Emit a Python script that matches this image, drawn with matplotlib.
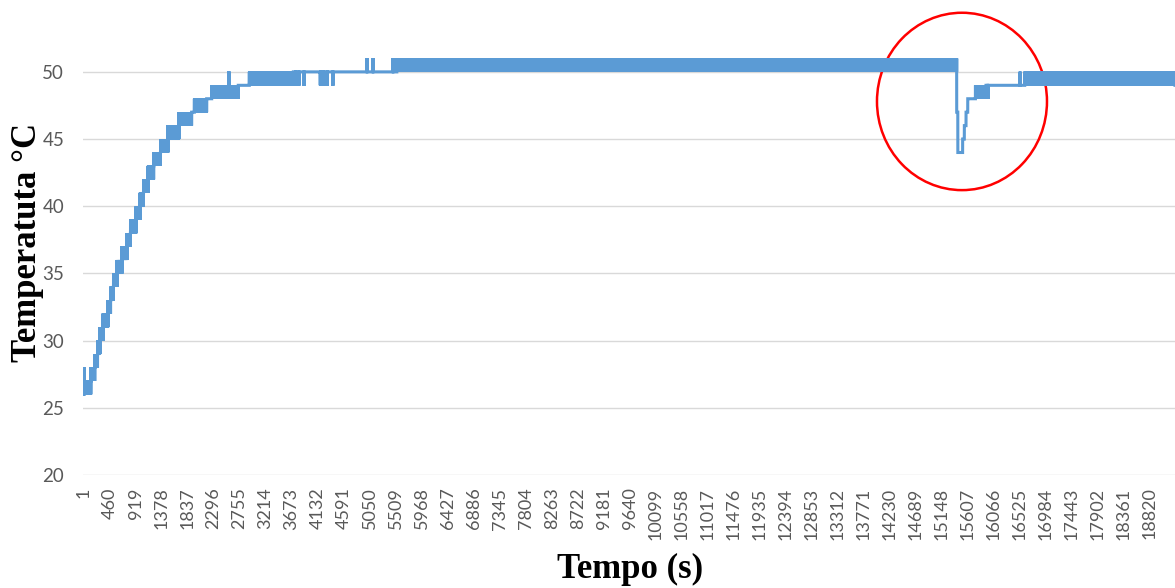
import numpy as np
import matplotlib
matplotlib.use("Agg")
import matplotlib.pyplot as plt
from matplotlib.patches import Ellipse

# Temperature log: one reading per second. The sensor reports whole degrees and
# often flickers between two neighbouring values, so the log is described as
# consecutive blocks starting at seg_start, with the low/high reading of each.
seg_start = [1, 12, 130, 200, 250, 290, 345, 430, 480, 530,
             590, 680, 770, 830, 930, 1000, 1060, 1140, 1240, 1360,
             1490, 1686, 1910, 1957, 2175, 2263, 2560, 2575, 2733, 2927,
             3704, 3740, 3746, 3800, 3806, 3890, 3896, 4180, 4186, 4240,
             4246, 4300, 4306, 4400, 4406, 5000, 5008, 5106, 5114, 5460,
             5468, 5530, 15410, 15430, 15515, 15545, 15575, 15605, 15740, 15928,
             15955, 15962, 16525, 16533, 16610]
seg_low = [26, 26, 27, 28, 29, 30, 31, 32, 33, 34,
           35, 36, 37, 38, 39, 40, 41, 42, 43, 44,
           45, 46, 47, 47, 48, 48, 49, 48, 49, 49,
           50, 49, 50, 49, 50, 49, 50, 49, 50, 49,
           50, 49, 50, 49, 50, 50, 50, 50, 50, 50,
           50, 50, 47, 44, 45, 46, 47, 48, 48, 49,
           48, 49, 49, 49, 49]
seg_high = [28, 27, 28, 29, 30, 31, 32, 33, 34, 35,
            36, 37, 38, 39, 40, 41, 42, 43, 44, 45,
            46, 47, 47, 48, 48, 49, 50, 49, 49, 50,
            50, 50, 50, 50, 50, 50, 50, 50, 50, 50,
            50, 50, 50, 50, 50, 51, 50, 51, 50, 51,
            50, 51, 47, 44, 45, 46, 47, 48, 49, 49,
            49, 49, 50, 49, 50]
last_sample = 19262

tick_step = 459

# Expand the blocks into the per-second series (flickering blocks alternate).
seg_end = seg_start[1:] + [last_sample + 1]
values = []
for s, e, lo, hi in zip(seg_start, seg_end, seg_low, seg_high):
    n = e - s
    if lo == hi:
        values.extend([lo] * n)
    else:
        values.extend([lo if k % 2 == 0 else hi for k in range(n)])
temps = np.array(values, dtype=float)
samples = np.arange(1, len(temps) + 1)

plt.rcParams["path.simplify"] = False

W, H = 1175, 588
fig = plt.figure(figsize=(W / 100, H / 100), dpi=100)
ax = fig.add_axes([83 / W, 1 - 475 / H, 1 - 83 / W, (475 - 45) / H])

ax.plot(samples, temps, color="#5B9BD5", linewidth=2.2, solid_joinstyle="miter")

ax.set_xlim(-8, last_sample)
ax.set_ylim(20, 52)
ax.set_yticks([20, 25, 30, 35, 40, 45, 50])
ax.grid(axis="y", color="#D9D9D9", linewidth=1.0)
ax.set_axisbelow(True)
for sp in ax.spines.values():
    sp.set_visible(False)

xt = np.arange(1, last_sample + 1, tick_step)
ax.set_xticks(xt)
ax.set_xticklabels([str(v) for v in xt], rotation=90, fontfamily="Lato",
                   fontsize=13, color="#595959")
ax.tick_params(axis="x", length=0, pad=9)
ax.tick_params(axis="y", length=0, pad=13.5, labelsize=13.5, labelcolor="#595959")
for lab in ax.get_yticklabels():
    lab.set_fontfamily("Lato")

# Highlight of the disturbance around t = 15400 s
ax.add_patch(Ellipse((15503, 47.8), width=3000, height=13.2, fill=False,
                     edgecolor="#FF0000", linewidth=1.8, clip_on=False))

fig.text(28 / W, 1 - 242 / H, "Temperatuta °C", rotation=90, ha="center",
         va="center", fontfamily="Liberation Serif", fontweight="bold",
         fontsize=25)
fig.text(630 / W, 1 - 569 / H, "Tempo (s)", ha="center", va="center",
         fontfamily="Liberation Serif", fontweight="bold", fontsize=25)

fig.savefig("out.png", dpi=100)
